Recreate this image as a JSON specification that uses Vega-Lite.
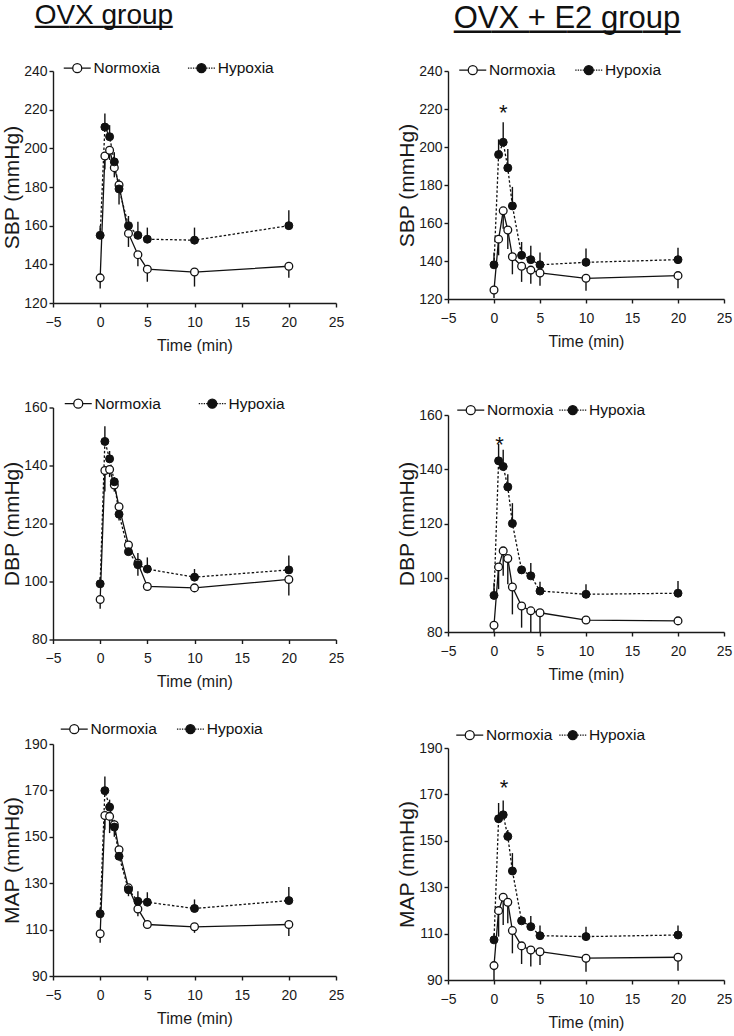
{
  "$schema": "https://vega.github.io/schema/vega-lite/v6.json",
  "padding": {"left": 1, "top": 1, "right": 3, "bottom": 3},
  "data": {"values": [
    {"p":"L1","g":"Hypoxia","t":0,"v":155,"e":160},
    {"p":"L1","g":"Hypoxia","t":0.5,"v":211,"e":218},
    {"p":"L1","g":"Hypoxia","t":1,"v":206,"e":212},
    {"p":"L1","g":"Hypoxia","t":1.5,"v":193,"e":198},
    {"p":"L1","g":"Hypoxia","t":2,"v":179,"e":184},
    {"p":"L1","g":"Hypoxia","t":3,"v":160,"e":165},
    {"p":"L1","g":"Hypoxia","t":4,"v":155,"e":162},
    {"p":"L1","g":"Hypoxia","t":5,"v":153,"e":159},
    {"p":"L1","g":"Hypoxia","t":10,"v":152.5,"e":159},
    {"p":"L1","g":"Hypoxia","t":20,"v":160,"e":168},
    {"p":"L1","g":"Normoxia","t":0,"v":133,"e":127.5},
    {"p":"L1","g":"Normoxia","t":0.5,"v":196,"e":189},
    {"p":"L1","g":"Normoxia","t":1,"v":199,"e":194},
    {"p":"L1","g":"Normoxia","t":1.5,"v":190,"e":185},
    {"p":"L1","g":"Normoxia","t":2,"v":181,"e":171},
    {"p":"L1","g":"Normoxia","t":3,"v":156,"e":149},
    {"p":"L1","g":"Normoxia","t":4,"v":145,"e":139},
    {"p":"L1","g":"Normoxia","t":5,"v":137.5,"e":131},
    {"p":"L1","g":"Normoxia","t":10,"v":136,"e":128.5},
    {"p":"L1","g":"Normoxia","t":20,"v":139,"e":133},

    {"p":"R1","g":"Hypoxia","t":0,"v":138,"e":144.5},
    {"p":"R1","g":"Hypoxia","t":0.5,"v":196,"e":204},
    {"p":"R1","g":"Hypoxia","t":1,"v":202.5,"e":213},
    {"p":"R1","g":"Hypoxia","t":1.5,"v":189,"e":199},
    {"p":"R1","g":"Hypoxia","t":2,"v":169,"e":179},
    {"p":"R1","g":"Hypoxia","t":3,"v":143,"e":150},
    {"p":"R1","g":"Hypoxia","t":4,"v":140.7,"e":148},
    {"p":"R1","g":"Hypoxia","t":5,"v":138,"e":144.5},
    {"p":"R1","g":"Hypoxia","t":10,"v":139.3,"e":146.6},
    {"p":"R1","g":"Hypoxia","t":20,"v":140.7,"e":147},
    {"p":"R1","g":"Normoxia","t":0,"v":124.7,"e":120.5},
    {"p":"R1","g":"Normoxia","t":0.5,"v":151.5,"e":143},
    {"p":"R1","g":"Normoxia","t":1,"v":166.4,"e":157},
    {"p":"R1","g":"Normoxia","t":1.5,"v":156.3,"e":146.3},
    {"p":"R1","g":"Normoxia","t":2,"v":142.2,"e":133},
    {"p":"R1","g":"Normoxia","t":3,"v":137.2,"e":129},
    {"p":"R1","g":"Normoxia","t":4,"v":135.2,"e":128},
    {"p":"R1","g":"Normoxia","t":5,"v":133.7,"e":127},
    {"p":"R1","g":"Normoxia","t":10,"v":130.9,"e":124.4},
    {"p":"R1","g":"Normoxia","t":20,"v":132.3,"e":125.6},
    {"p":"R1","g":"Star","t":1,"v":217.8,"e":217.8},

    {"p":"L2","g":"Hypoxia","t":0,"v":99.2,"e":101.5},
    {"p":"L2","g":"Hypoxia","t":0.5,"v":148.3,"e":153.5},
    {"p":"L2","g":"Hypoxia","t":1,"v":142.3,"e":145},
    {"p":"L2","g":"Hypoxia","t":1.5,"v":134.4,"e":136},
    {"p":"L2","g":"Hypoxia","t":2,"v":123.2,"e":125},
    {"p":"L2","g":"Hypoxia","t":3,"v":110.3,"e":112.3},
    {"p":"L2","g":"Hypoxia","t":4,"v":105.8,"e":109.8},
    {"p":"L2","g":"Hypoxia","t":5,"v":104.3,"e":108.3},
    {"p":"L2","g":"Hypoxia","t":10,"v":101.5,"e":104.3},
    {"p":"L2","g":"Hypoxia","t":20,"v":104,"e":109},
    {"p":"L2","g":"Normoxia","t":0,"v":93.8,"e":90.6},
    {"p":"L2","g":"Normoxia","t":0.5,"v":138.3,"e":131},
    {"p":"L2","g":"Normoxia","t":1,"v":138.6,"e":136},
    {"p":"L2","g":"Normoxia","t":1.5,"v":133.3,"e":131},
    {"p":"L2","g":"Normoxia","t":2,"v":125.8,"e":121},
    {"p":"L2","g":"Normoxia","t":3,"v":112.6,"e":110.6},
    {"p":"L2","g":"Normoxia","t":4,"v":106.3,"e":102},
    {"p":"L2","g":"Normoxia","t":5,"v":98.3,"e":98},
    {"p":"L2","g":"Normoxia","t":10,"v":97.8,"e":97.5},
    {"p":"L2","g":"Normoxia","t":20,"v":100.7,"e":95.2},

    {"p":"R2","g":"Hypoxia","t":0,"v":93.5,"e":98.2},
    {"p":"R2","g":"Hypoxia","t":0.5,"v":143.1,"e":149.3},
    {"p":"R2","g":"Hypoxia","t":1,"v":141,"e":147.2},
    {"p":"R2","g":"Hypoxia","t":1.5,"v":133.5,"e":138.2},
    {"p":"R2","g":"Hypoxia","t":2,"v":120,"e":127.5},
    {"p":"R2","g":"Hypoxia","t":3,"v":102.9,"e":104.4},
    {"p":"R2","g":"Hypoxia","t":4,"v":100.7,"e":105.4},
    {"p":"R2","g":"Hypoxia","t":5,"v":95.1,"e":98.5},
    {"p":"R2","g":"Hypoxia","t":10,"v":93.9,"e":97.6},
    {"p":"R2","g":"Hypoxia","t":20,"v":94.3,"e":98.8},
    {"p":"R2","g":"Normoxia","t":0,"v":82.5,"e":80},
    {"p":"R2","g":"Normoxia","t":0.5,"v":104,"e":95.8},
    {"p":"R2","g":"Normoxia","t":1,"v":109.9,"e":100.7},
    {"p":"R2","g":"Normoxia","t":1.5,"v":107.1,"e":97.6},
    {"p":"R2","g":"Normoxia","t":2,"v":96.6,"e":86.5},
    {"p":"R2","g":"Normoxia","t":3,"v":89.6,"e":81.6},
    {"p":"R2","g":"Normoxia","t":4,"v":87.8,"e":80},
    {"p":"R2","g":"Normoxia","t":5,"v":87.1,"e":80},
    {"p":"R2","g":"Normoxia","t":10,"v":84.4,"e":84},
    {"p":"R2","g":"Normoxia","t":20,"v":84.1,"e":84},
    {"p":"R2","g":"Star","t":0.6,"v":149,"e":149},

    {"p":"L3","g":"Hypoxia","t":0,"v":116.8,"e":119.4},
    {"p":"L3","g":"Hypoxia","t":0.5,"v":169.9,"e":176},
    {"p":"L3","g":"Hypoxia","t":1,"v":162.8,"e":166},
    {"p":"L3","g":"Hypoxia","t":1.5,"v":154.2,"e":157.3},
    {"p":"L3","g":"Hypoxia","t":2,"v":141.6,"e":143},
    {"p":"L3","g":"Hypoxia","t":3,"v":127.2,"e":129.4},
    {"p":"L3","g":"Hypoxia","t":4,"v":122.2,"e":126.5},
    {"p":"L3","g":"Hypoxia","t":5,"v":121.8,"e":126.1},
    {"p":"L3","g":"Hypoxia","t":10,"v":119.1,"e":123},
    {"p":"L3","g":"Hypoxia","t":20,"v":122.5,"e":128.4},
    {"p":"L3","g":"Normoxia","t":0,"v":108.2,"e":104.3},
    {"p":"L3","g":"Normoxia","t":0.5,"v":159.2,"e":153},
    {"p":"L3","g":"Normoxia","t":1,"v":158.8,"e":151.6},
    {"p":"L3","g":"Normoxia","t":1.5,"v":155.2,"e":150},
    {"p":"L3","g":"Normoxia","t":2,"v":144.4,"e":140},
    {"p":"L3","g":"Normoxia","t":3,"v":128,"e":124.4},
    {"p":"L3","g":"Normoxia","t":4,"v":118.9,"e":115.8},
    {"p":"L3","g":"Normoxia","t":5,"v":112.2,"e":111},
    {"p":"L3","g":"Normoxia","t":10,"v":111.2,"e":108.6},
    {"p":"L3","g":"Normoxia","t":20,"v":112.2,"e":107.2},

    {"p":"R3","g":"Hypoxia","t":0,"v":107.3,"e":110},
    {"p":"R3","g":"Hypoxia","t":0.5,"v":159.5,"e":166.3},
    {"p":"R3","g":"Hypoxia","t":1,"v":161.2,"e":167.4},
    {"p":"R3","g":"Hypoxia","t":1.5,"v":151.9,"e":154.7},
    {"p":"R3","g":"Hypoxia","t":2,"v":137,"e":144.7},
    {"p":"R3","g":"Hypoxia","t":3,"v":115.5,"e":117.3},
    {"p":"R3","g":"Hypoxia","t":4,"v":113,"e":117.6},
    {"p":"R3","g":"Hypoxia","t":5,"v":109.1,"e":113.5},
    {"p":"R3","g":"Hypoxia","t":10,"v":108.7,"e":113},
    {"p":"R3","g":"Hypoxia","t":20,"v":109.4,"e":113.5},
    {"p":"R3","g":"Normoxia","t":0,"v":96.2,"e":90},
    {"p":"R3","g":"Normoxia","t":0.5,"v":119.9,"e":108.7},
    {"p":"R3","g":"Normoxia","t":1,"v":125.7,"e":113.7},
    {"p":"R3","g":"Normoxia","t":1.5,"v":123.5,"e":114.5},
    {"p":"R3","g":"Normoxia","t":2,"v":111.3,"e":101.5},
    {"p":"R3","g":"Normoxia","t":3,"v":104.7,"e":96.9},
    {"p":"R3","g":"Normoxia","t":4,"v":102.9,"e":95.8},
    {"p":"R3","g":"Normoxia","t":5,"v":102.2,"e":96.5},
    {"p":"R3","g":"Normoxia","t":10,"v":99.4,"e":93.6},
    {"p":"R3","g":"Normoxia","t":20,"v":99.8,"e":94},
    {"p":"R3","g":"Star","t":1.1,"v":172.8,"e":172.8}
  ]},
  "spacing": 52,
  "resolve": {"scale": {"shape": "independent", "fill": "independent", "stroke": "independent"}, "legend": {"shape": "independent", "fill": "independent", "stroke": "independent"}},
  "hconcat": [
    {
      "title": {"text": "OVX group", "subtitle": "————", "anchor": "start", "frame": "bounds", "dx": 33, "font": "Liberation Sans", "fontSize": 28, "fontWeight": "normal", "color": "#111", "subtitleFont": "Liberation Sans", "subtitleFontSize": 34.5, "subtitleColor": "#111", "subtitlePadding": -21, "offset": 18},
      "bounds": "flush",
      "spacing": 104.5,
      "resolve": {"scale": {"shape": "independent", "fill": "independent", "stroke": "independent"}, "legend": {"shape": "independent", "fill": "independent", "stroke": "independent"}},
      "vconcat": [
        {
          "width": 283, "height": 232,
          "transform": [{"filter": "datum.p == 'L1'"}],
          "encoding": {
            "x": {"field": "t", "type": "quantitative", "scale": {"domain": [-5, 25], "nice": false, "zero": false}, "axis": {"values": [-5, 0, 5, 10, 15, 20, 25], "title": "Time (min)"}},
            "y": {"field": "v", "type": "quantitative", "scale": {"domain": [120, 240], "nice": false, "zero": false}, "axis": {"values": [120, 140, 160, 180, 200, 220, 240], "title": "SBP (mmHg)"}}
          },
          "layer": [
            {"transform": [{"filter": "datum.g == 'Hypoxia'"}], "mark": {"type": "line", "color": "#111", "strokeWidth": 1.3, "strokeDash": [2.5, 2]}},
            {"transform": [{"filter": "datum.g == 'Normoxia'"}], "mark": {"type": "line", "color": "#111", "strokeWidth": 1.3}},
            {"transform": [{"filter": "datum.g != 'Star'"}], "mark": {"type": "rule", "color": "#111", "strokeWidth": 1.4}, "encoding": {"y2": {"field": "e"}}},
            {"transform": [{"filter": "datum.g == 'Normoxia'"}], "mark": {"type": "point", "shape": "circle", "filled": true, "fill": "white", "stroke": "#111", "strokeWidth": 1.3, "size": 60, "opacity": 1}},
            {"transform": [{"filter": "datum.g == 'Hypoxia'"}], "mark": {"type": "point", "shape": "circle", "filled": true, "fill": "#111", "stroke": "#111", "strokeWidth": 1, "size": 64, "opacity": 1}},
            {"transform": [{"filter": "datum.t < -100"}], "mark": {"type": "point", "filled": true, "opacity": 1},
             "encoding": {
               "shape": {"field": "g", "type": "nominal", "scale": {"domain": ["Normoxia", "Hypoxia"], "range": ["M-3,0L-1,0M1,0L3,0M-1,0A1,1,0,1,0,1,0A1,1,0,1,0,-1,0Z", "M-3,0L-2.7,0M-2.45,0L-2.15,0M-1.9,0L-1.6,0M-1.35,0L-1.05,0M1.05,0L1.35,0M1.6,0L1.9,0M2.15,0L2.45,0M2.7,0L3,0M-1,0A1,1,0,1,0,1,0A1,1,0,1,0,-1,0Z"]},
                 "legend": {"title": null, "orient": "none", "legendX": 16.5, "legendY": -11, "direction": "horizontal", "symbolSize": 81, "symbolStrokeWidth": 1.3, "symbolOpacity": 1, "labelFont": "Liberation Sans", "labelFontSize": 15.5, "labelColor": "#111", "labelOffset": 8.5, "columnPadding": 24.2, "padding": 0}},
               "fill": {"field": "g", "type": "nominal", "scale": {"domain": ["Normoxia", "Hypoxia"], "range": ["white", "#111"]},
                 "legend": {"title": null, "orient": "none", "legendX": 16.5, "legendY": -11, "direction": "horizontal", "symbolSize": 81, "symbolStrokeWidth": 1.3, "symbolOpacity": 1, "labelFont": "Liberation Sans", "labelFontSize": 15.5, "labelColor": "#111", "labelOffset": 8.5, "columnPadding": 24.2, "padding": 0}},
               "stroke": {"field": "g", "type": "nominal", "scale": {"domain": ["Normoxia", "Hypoxia"], "range": ["#111", "#111"]},
                 "legend": {"title": null, "orient": "none", "legendX": 16.5, "legendY": -11, "direction": "horizontal", "symbolSize": 81, "symbolStrokeWidth": 1.3, "symbolOpacity": 1, "labelFont": "Liberation Sans", "labelFontSize": 15.5, "labelColor": "#111", "labelOffset": 8.5, "columnPadding": 24.2, "padding": 0}}
             }}
          ]
        },
        {
          "width": 283, "height": 232,
          "transform": [{"filter": "datum.p == 'L2'"}],
          "encoding": {
            "x": {"field": "t", "type": "quantitative", "scale": {"domain": [-5, 25], "nice": false, "zero": false}, "axis": {"values": [-5, 0, 5, 10, 15, 20, 25], "title": "Time (min)"}},
            "y": {"field": "v", "type": "quantitative", "scale": {"domain": [80, 160], "nice": false, "zero": false}, "axis": {"values": [80, 100, 120, 140, 160], "title": "DBP (mmHg)"}}
          },
          "layer": [
            {"transform": [{"filter": "datum.g == 'Hypoxia'"}], "mark": {"type": "line", "color": "#111", "strokeWidth": 1.3, "strokeDash": [2.5, 2]}},
            {"transform": [{"filter": "datum.g == 'Normoxia'"}], "mark": {"type": "line", "color": "#111", "strokeWidth": 1.3}},
            {"transform": [{"filter": "datum.g != 'Star'"}], "mark": {"type": "rule", "color": "#111", "strokeWidth": 1.4}, "encoding": {"y2": {"field": "e"}}},
            {"transform": [{"filter": "datum.g == 'Normoxia'"}], "mark": {"type": "point", "shape": "circle", "filled": true, "fill": "white", "stroke": "#111", "strokeWidth": 1.3, "size": 60, "opacity": 1}},
            {"transform": [{"filter": "datum.g == 'Hypoxia'"}], "mark": {"type": "point", "shape": "circle", "filled": true, "fill": "#111", "stroke": "#111", "strokeWidth": 1, "size": 64, "opacity": 1}},
            {"transform": [{"filter": "datum.t < -100"}], "mark": {"type": "point", "filled": true, "opacity": 1},
             "encoding": {
               "shape": {"field": "g", "type": "nominal", "scale": {"domain": ["Normoxia", "Hypoxia"], "range": ["M-3,0L-1,0M1,0L3,0M-1,0A1,1,0,1,0,1,0A1,1,0,1,0,-1,0Z", "M-3,0L-2.7,0M-2.45,0L-2.15,0M-1.9,0L-1.6,0M-1.35,0L-1.05,0M1.05,0L1.35,0M1.6,0L1.9,0M2.15,0L2.45,0M2.7,0L3,0M-1,0A1,1,0,1,0,1,0A1,1,0,1,0,-1,0Z"]},
                 "legend": {"title": null, "orient": "none", "legendX": 17.5, "legendY": -12, "direction": "horizontal", "symbolSize": 81, "symbolStrokeWidth": 1.3, "symbolOpacity": 1, "labelFont": "Liberation Sans", "labelFontSize": 15.5, "labelColor": "#111", "labelOffset": 8.5, "columnPadding": 34, "padding": 0}},
               "fill": {"field": "g", "type": "nominal", "scale": {"domain": ["Normoxia", "Hypoxia"], "range": ["white", "#111"]},
                 "legend": {"title": null, "orient": "none", "legendX": 17.5, "legendY": -12, "direction": "horizontal", "symbolSize": 81, "symbolStrokeWidth": 1.3, "symbolOpacity": 1, "labelFont": "Liberation Sans", "labelFontSize": 15.5, "labelColor": "#111", "labelOffset": 8.5, "columnPadding": 34, "padding": 0}},
               "stroke": {"field": "g", "type": "nominal", "scale": {"domain": ["Normoxia", "Hypoxia"], "range": ["#111", "#111"]},
                 "legend": {"title": null, "orient": "none", "legendX": 17.5, "legendY": -12, "direction": "horizontal", "symbolSize": 81, "symbolStrokeWidth": 1.3, "symbolOpacity": 1, "labelFont": "Liberation Sans", "labelFontSize": 15.5, "labelColor": "#111", "labelOffset": 8.5, "columnPadding": 34, "padding": 0}}
             }}
          ]
        },
        {
          "width": 283, "height": 232,
          "transform": [{"filter": "datum.p == 'L3'"}],
          "encoding": {
            "x": {"field": "t", "type": "quantitative", "scale": {"domain": [-5, 25], "nice": false, "zero": false}, "axis": {"values": [-5, 0, 5, 10, 15, 20, 25], "title": "Time (min)"}},
            "y": {"field": "v", "type": "quantitative", "scale": {"domain": [90, 190], "nice": false, "zero": false}, "axis": {"values": [90, 110, 130, 150, 170, 190], "title": "MAP (mmHg)"}}
          },
          "layer": [
            {"transform": [{"filter": "datum.g == 'Hypoxia'"}], "mark": {"type": "line", "color": "#111", "strokeWidth": 1.3, "strokeDash": [2.5, 2]}},
            {"transform": [{"filter": "datum.g == 'Normoxia'"}], "mark": {"type": "line", "color": "#111", "strokeWidth": 1.3}},
            {"transform": [{"filter": "datum.g != 'Star'"}], "mark": {"type": "rule", "color": "#111", "strokeWidth": 1.4}, "encoding": {"y2": {"field": "e"}}},
            {"transform": [{"filter": "datum.g == 'Normoxia'"}], "mark": {"type": "point", "shape": "circle", "filled": true, "fill": "white", "stroke": "#111", "strokeWidth": 1.3, "size": 60, "opacity": 1}},
            {"transform": [{"filter": "datum.g == 'Hypoxia'"}], "mark": {"type": "point", "shape": "circle", "filled": true, "fill": "#111", "stroke": "#111", "strokeWidth": 1, "size": 64, "opacity": 1}},
            {"transform": [{"filter": "datum.t < -100"}], "mark": {"type": "point", "filled": true, "opacity": 1},
             "encoding": {
               "shape": {"field": "g", "type": "nominal", "scale": {"domain": ["Normoxia", "Hypoxia"], "range": ["M-3,0L-1,0M1,0L3,0M-1,0A1,1,0,1,0,1,0A1,1,0,1,0,-1,0Z", "M-3,0L-2.7,0M-2.45,0L-2.15,0M-1.9,0L-1.6,0M-1.35,0L-1.05,0M1.05,0L1.35,0M1.6,0L1.9,0M2.15,0L2.45,0M2.7,0L3,0M-1,0A1,1,0,1,0,1,0A1,1,0,1,0,-1,0Z"]},
                 "legend": {"title": null, "orient": "none", "legendX": 13.5, "legendY": -23, "direction": "horizontal", "symbolSize": 81, "symbolStrokeWidth": 1.3, "symbolOpacity": 1, "labelFont": "Liberation Sans", "labelFontSize": 15.5, "labelColor": "#111", "labelOffset": 8.5, "columnPadding": 16.2, "padding": 0}},
               "fill": {"field": "g", "type": "nominal", "scale": {"domain": ["Normoxia", "Hypoxia"], "range": ["white", "#111"]},
                 "legend": {"title": null, "orient": "none", "legendX": 13.5, "legendY": -23, "direction": "horizontal", "symbolSize": 81, "symbolStrokeWidth": 1.3, "symbolOpacity": 1, "labelFont": "Liberation Sans", "labelFontSize": 15.5, "labelColor": "#111", "labelOffset": 8.5, "columnPadding": 16.2, "padding": 0}},
               "stroke": {"field": "g", "type": "nominal", "scale": {"domain": ["Normoxia", "Hypoxia"], "range": ["#111", "#111"]},
                 "legend": {"title": null, "orient": "none", "legendX": 13.5, "legendY": -23, "direction": "horizontal", "symbolSize": 81, "symbolStrokeWidth": 1.3, "symbolOpacity": 1, "labelFont": "Liberation Sans", "labelFontSize": 15.5, "labelColor": "#111", "labelOffset": 8.5, "columnPadding": 16.2, "padding": 0}}
             }}
          ]
        }
      ]
    },
    {
      "title": {"text": "OVX + E2 group", "subtitle": "——————", "anchor": "start", "frame": "bounds", "dx": 57, "font": "Liberation Sans", "fontSize": 31, "fontWeight": "normal", "color": "#111", "subtitleFont": "Liberation Sans", "subtitleFontSize": 37.8, "subtitleColor": "#111", "subtitlePadding": -23.5, "offset": 12},
      "bounds": "flush",
      "spacing": 116,
      "resolve": {"scale": {"shape": "independent", "fill": "independent", "stroke": "independent"}, "legend": {"shape": "independent", "fill": "independent", "stroke": "independent"}},
      "vconcat": [
        {
          "width": 276, "height": 228,
          "transform": [{"filter": "datum.p == 'R1'"}],
          "encoding": {
            "x": {"field": "t", "type": "quantitative", "scale": {"domain": [-5, 25], "nice": false, "zero": false}, "axis": {"values": [-5, 0, 5, 10, 15, 20, 25], "title": "Time (min)"}},
            "y": {"field": "v", "type": "quantitative", "scale": {"domain": [120, 240], "nice": false, "zero": false}, "axis": {"values": [120, 140, 160, 180, 200, 220, 240], "title": "SBP (mmHg)"}}
          },
          "layer": [
            {"transform": [{"filter": "datum.g == 'Hypoxia'"}], "mark": {"type": "line", "color": "#111", "strokeWidth": 1.3, "strokeDash": [2.5, 2]}},
            {"transform": [{"filter": "datum.g == 'Normoxia'"}], "mark": {"type": "line", "color": "#111", "strokeWidth": 1.3}},
            {"transform": [{"filter": "datum.g != 'Star'"}], "mark": {"type": "rule", "color": "#111", "strokeWidth": 1.4}, "encoding": {"y2": {"field": "e"}}},
            {"transform": [{"filter": "datum.g == 'Normoxia'"}], "mark": {"type": "point", "shape": "circle", "filled": true, "fill": "white", "stroke": "#111", "strokeWidth": 1.3, "size": 60, "opacity": 1}},
            {"transform": [{"filter": "datum.g == 'Hypoxia'"}], "mark": {"type": "point", "shape": "circle", "filled": true, "fill": "#111", "stroke": "#111", "strokeWidth": 1, "size": 64, "opacity": 1}},
            {"transform": [{"filter": "datum.g == 'Star'"}], "mark": {"type": "text", "text": "*", "font": "Liberation Sans", "fontSize": 22, "baseline": "middle", "color": "#111"}},
            {"transform": [{"filter": "datum.t < -100"}], "mark": {"type": "point", "filled": true, "opacity": 1},
             "encoding": {
               "shape": {"field": "g", "type": "nominal", "scale": {"domain": ["Normoxia", "Hypoxia"], "range": ["M-3,0L-1,0M1,0L3,0M-1,0A1,1,0,1,0,1,0A1,1,0,1,0,-1,0Z", "M-3,0L-2.7,0M-2.45,0L-2.15,0M-1.9,0L-1.6,0M-1.35,0L-1.05,0M1.05,0L1.35,0M1.6,0L1.9,0M2.15,0L2.45,0M2.7,0L3,0M-1,0A1,1,0,1,0,1,0A1,1,0,1,0,-1,0Z"]},
                 "legend": {"title": null, "orient": "none", "legendX": 17, "legendY": -9, "direction": "horizontal", "symbolSize": 81, "symbolStrokeWidth": 1.3, "symbolOpacity": 1, "labelFont": "Liberation Sans", "labelFontSize": 15.5, "labelColor": "#111", "labelOffset": 8.5, "columnPadding": 16, "padding": 0}},
               "fill": {"field": "g", "type": "nominal", "scale": {"domain": ["Normoxia", "Hypoxia"], "range": ["white", "#111"]},
                 "legend": {"title": null, "orient": "none", "legendX": 17, "legendY": -9, "direction": "horizontal", "symbolSize": 81, "symbolStrokeWidth": 1.3, "symbolOpacity": 1, "labelFont": "Liberation Sans", "labelFontSize": 15.5, "labelColor": "#111", "labelOffset": 8.5, "columnPadding": 16, "padding": 0}},
               "stroke": {"field": "g", "type": "nominal", "scale": {"domain": ["Normoxia", "Hypoxia"], "range": ["#111", "#111"]},
                 "legend": {"title": null, "orient": "none", "legendX": 17, "legendY": -9, "direction": "horizontal", "symbolSize": 81, "symbolStrokeWidth": 1.3, "symbolOpacity": 1, "labelFont": "Liberation Sans", "labelFontSize": 15.5, "labelColor": "#111", "labelOffset": 8.5, "columnPadding": 16, "padding": 0}}
             }}
          ]
        },
        {
          "width": 276, "height": 217,
          "transform": [{"filter": "datum.p == 'R2'"}],
          "encoding": {
            "x": {"field": "t", "type": "quantitative", "scale": {"domain": [-5, 25], "nice": false, "zero": false}, "axis": {"values": [-5, 0, 5, 10, 15, 20, 25], "title": "Time (min)"}},
            "y": {"field": "v", "type": "quantitative", "scale": {"domain": [80, 160], "nice": false, "zero": false}, "axis": {"values": [80, 100, 120, 140, 160], "title": "DBP (mmHg)"}}
          },
          "layer": [
            {"transform": [{"filter": "datum.g == 'Hypoxia'"}], "mark": {"type": "line", "color": "#111", "strokeWidth": 1.3, "strokeDash": [2.5, 2]}},
            {"transform": [{"filter": "datum.g == 'Normoxia'"}], "mark": {"type": "line", "color": "#111", "strokeWidth": 1.3}},
            {"transform": [{"filter": "datum.g != 'Star'"}], "mark": {"type": "rule", "color": "#111", "strokeWidth": 1.4}, "encoding": {"y2": {"field": "e"}}},
            {"transform": [{"filter": "datum.g == 'Normoxia'"}], "mark": {"type": "point", "shape": "circle", "filled": true, "fill": "white", "stroke": "#111", "strokeWidth": 1.3, "size": 60, "opacity": 1}},
            {"transform": [{"filter": "datum.g == 'Hypoxia'"}], "mark": {"type": "point", "shape": "circle", "filled": true, "fill": "#111", "stroke": "#111", "strokeWidth": 1, "size": 64, "opacity": 1}},
            {"transform": [{"filter": "datum.g == 'Star'"}], "mark": {"type": "text", "text": "*", "font": "Liberation Sans", "fontSize": 22, "baseline": "middle", "color": "#111"}},
            {"transform": [{"filter": "datum.t < -100"}], "mark": {"type": "point", "filled": true, "opacity": 1},
             "encoding": {
               "shape": {"field": "g", "type": "nominal", "scale": {"domain": ["Normoxia", "Hypoxia"], "range": ["M-3,0L-1,0M1,0L3,0M-1,0A1,1,0,1,0,1,0A1,1,0,1,0,-1,0Z", "M-3,0L-2.7,0M-2.45,0L-2.15,0M-1.9,0L-1.6,0M-1.35,0L-1.05,0M1.05,0L1.35,0M1.6,0L1.9,0M2.15,0L2.45,0M2.7,0L3,0M-1,0A1,1,0,1,0,1,0A1,1,0,1,0,-1,0Z"]},
                 "legend": {"title": null, "orient": "none", "legendX": 15, "legendY": -13, "direction": "horizontal", "symbolSize": 81, "symbolStrokeWidth": 1.3, "symbolOpacity": 1, "labelFont": "Liberation Sans", "labelFontSize": 15.5, "labelColor": "#111", "labelOffset": 8.5, "columnPadding": 2, "padding": 0}},
               "fill": {"field": "g", "type": "nominal", "scale": {"domain": ["Normoxia", "Hypoxia"], "range": ["white", "#111"]},
                 "legend": {"title": null, "orient": "none", "legendX": 15, "legendY": -13, "direction": "horizontal", "symbolSize": 81, "symbolStrokeWidth": 1.3, "symbolOpacity": 1, "labelFont": "Liberation Sans", "labelFontSize": 15.5, "labelColor": "#111", "labelOffset": 8.5, "columnPadding": 2, "padding": 0}},
               "stroke": {"field": "g", "type": "nominal", "scale": {"domain": ["Normoxia", "Hypoxia"], "range": ["#111", "#111"]},
                 "legend": {"title": null, "orient": "none", "legendX": 15, "legendY": -13, "direction": "horizontal", "symbolSize": 81, "symbolStrokeWidth": 1.3, "symbolOpacity": 1, "labelFont": "Liberation Sans", "labelFontSize": 15.5, "labelColor": "#111", "labelOffset": 8.5, "columnPadding": 2, "padding": 0}}
             }}
          ]
        },
        {
          "width": 276, "height": 232,
          "transform": [{"filter": "datum.p == 'R3'"}],
          "encoding": {
            "x": {"field": "t", "type": "quantitative", "scale": {"domain": [-5, 25], "nice": false, "zero": false}, "axis": {"values": [-5, 0, 5, 10, 15, 20, 25], "title": "Time (min)"}},
            "y": {"field": "v", "type": "quantitative", "scale": {"domain": [90, 190], "nice": false, "zero": false}, "axis": {"values": [90, 110, 130, 150, 170, 190], "title": "MAP (mmHg)"}}
          },
          "layer": [
            {"transform": [{"filter": "datum.g == 'Hypoxia'"}], "mark": {"type": "line", "color": "#111", "strokeWidth": 1.3, "strokeDash": [2.5, 2]}},
            {"transform": [{"filter": "datum.g == 'Normoxia'"}], "mark": {"type": "line", "color": "#111", "strokeWidth": 1.3}},
            {"transform": [{"filter": "datum.g != 'Star'"}], "mark": {"type": "rule", "color": "#111", "strokeWidth": 1.4}, "encoding": {"y2": {"field": "e"}}},
            {"transform": [{"filter": "datum.g == 'Normoxia'"}], "mark": {"type": "point", "shape": "circle", "filled": true, "fill": "white", "stroke": "#111", "strokeWidth": 1.3, "size": 60, "opacity": 1}},
            {"transform": [{"filter": "datum.g == 'Hypoxia'"}], "mark": {"type": "point", "shape": "circle", "filled": true, "fill": "#111", "stroke": "#111", "strokeWidth": 1, "size": 64, "opacity": 1}},
            {"transform": [{"filter": "datum.g == 'Star'"}], "mark": {"type": "text", "text": "*", "font": "Liberation Sans", "fontSize": 22, "baseline": "middle", "color": "#111"}},
            {"transform": [{"filter": "datum.t < -100"}], "mark": {"type": "point", "filled": true, "opacity": 1},
             "encoding": {
               "shape": {"field": "g", "type": "nominal", "scale": {"domain": ["Normoxia", "Hypoxia"], "range": ["M-3,0L-1,0M1,0L3,0M-1,0A1,1,0,1,0,1,0A1,1,0,1,0,-1,0Z", "M-3,0L-2.7,0M-2.45,0L-2.15,0M-1.9,0L-1.6,0M-1.35,0L-1.05,0M1.05,0L1.35,0M1.6,0L1.9,0M2.15,0L2.45,0M2.7,0L3,0M-1,0A1,1,0,1,0,1,0A1,1,0,1,0,-1,0Z"]},
                 "legend": {"title": null, "orient": "none", "legendX": 14, "legendY": -21, "direction": "horizontal", "symbolSize": 81, "symbolStrokeWidth": 1.3, "symbolOpacity": 1, "labelFont": "Liberation Sans", "labelFontSize": 15.5, "labelColor": "#111", "labelOffset": 8.5, "columnPadding": 3, "padding": 0}},
               "fill": {"field": "g", "type": "nominal", "scale": {"domain": ["Normoxia", "Hypoxia"], "range": ["white", "#111"]},
                 "legend": {"title": null, "orient": "none", "legendX": 14, "legendY": -21, "direction": "horizontal", "symbolSize": 81, "symbolStrokeWidth": 1.3, "symbolOpacity": 1, "labelFont": "Liberation Sans", "labelFontSize": 15.5, "labelColor": "#111", "labelOffset": 8.5, "columnPadding": 3, "padding": 0}},
               "stroke": {"field": "g", "type": "nominal", "scale": {"domain": ["Normoxia", "Hypoxia"], "range": ["#111", "#111"]},
                 "legend": {"title": null, "orient": "none", "legendX": 14, "legendY": -21, "direction": "horizontal", "symbolSize": 81, "symbolStrokeWidth": 1.3, "symbolOpacity": 1, "labelFont": "Liberation Sans", "labelFontSize": 15.5, "labelColor": "#111", "labelOffset": 8.5, "columnPadding": 3, "padding": 0}}
             }}
          ]
        }
      ]
    }
  ],
  "config": {
    "font": "Liberation Sans",
    "view": {"stroke": null},
    "axis": {"grid": false, "domainColor": "#1a1a1a", "tickColor": "#1a1a1a", "labelColor": "#1a1a1a", "titleColor": "#1a1a1a", "domainWidth": 1.4, "tickWidth": 1.4, "tickSize": 4, "labelFont": "Liberation Sans", "labelFontSize": 14, "labelPadding": 2, "titleFontWeight": "normal"},
    "axisX": {"titleFont": "Liberation Sans", "titleFontSize": 16, "titlePadding": 8, "labelPadding": 8, "labelFlush": false},
    "axisY": {"titleFont": "Liberation Sans", "titleFontSize": 21, "titlePadding": 1, "labelFlush": false}
  }
}
